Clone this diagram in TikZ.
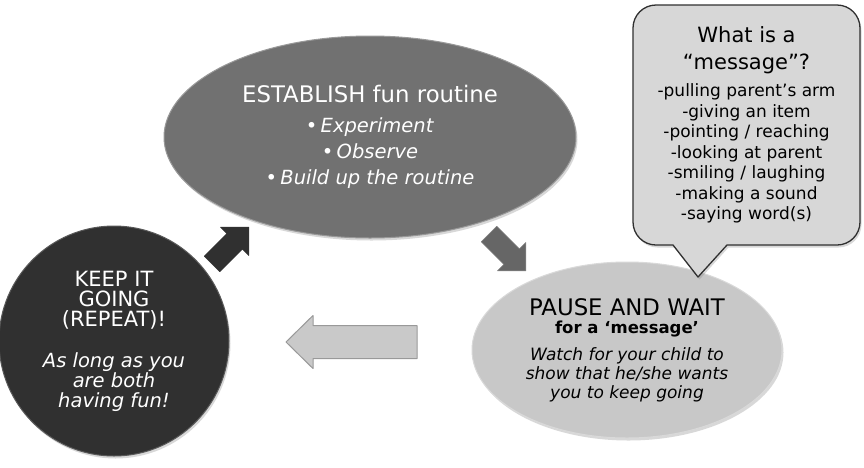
\documentclass[tikz,border=0pt]{standalone}
\usepackage{fontspec}
\setmainfont{DejaVu Sans}
\usetikzlibrary{shapes.geometric, shadows}

\definecolor{fungrey}{HTML}{717171}
\definecolor{keepdark}{HTML}{303030}
\definecolor{pauselight}{HTML}{C8C8C8}
\definecolor{calloutfill}{HTML}{D7D7D7}
\definecolor{arrowlight}{HTML}{C9C9C9}

\tikzset{
  fat arrow/.pic={
    \path[pic actions] (-26,-11) -- (6,-11) -- (6,-20) -- (26,0)
      -- (6,20) -- (6,11) -- (-26,11) -- cycle;
  }
}

\begin{document}
\begin{tikzpicture}[
    x=1pt, y=-1pt,
    line join=round,
    soft shadow/.style={drop shadow={opacity=0.3, shadow xshift=1.5pt, shadow yshift=-2.5pt}},
    stage/.style={inner sep=0pt, align=center, soft shadow},
  ]
  \fill[white] (0,0) rectangle (864,467);
  \useasboundingbox (0,0) rectangle (864,467);

  % the three stages
  \node[stage, ellipse, minimum width=412, minimum height=202,
        fill=fungrey, draw=gray!80, line width=1pt, text=white,
        font=\fontsize{19.5}{26}\selectfont] (establish) at (370,137)
    {{\fontsize{22.8}{27}\selectfont ESTABLISH fun routine}\\[4pt]
     \textbullet\,\textit{Experiment}\\
     \textbullet\,\textit{Observe}\\
     \textbullet\,\textit{Build up the routine}};

  \node[stage, ellipse, minimum width=310, minimum height=176,
        fill=pauselight, draw=gray!30, line width=1pt, text=black,
        font=\fontsize{17}{18.7}\selectfont] (pause) at (627,350)
    {{\fontsize{22.8}{27}\selectfont PAUSE AND WAIT}\\
     {\bfseries\fontsize{16.5}{18.7}\selectfont for a ‘message’}\\[8.3pt]
     \textit{Watch for your child to}\\
     \textit{show that he/she wants}\\
     \textit{you to keep going}};

  \node[stage, circle, minimum size=230,
        fill=keepdark, draw=gray!70!black, line width=1pt, text=white,
        font=\fontsize{19.5}{20}\selectfont] (keep) at (114,341)
    {{\fontsize{21}{20}\selectfont KEEP IT}\\
     {\fontsize{21}{20}\selectfont GOING}\\
     {\fontsize{21}{20}\selectfont (REPEAT)!}\\[21pt]
     \textit{As long as you}\\
     \textit{are both}\\
     \textit{having fun!}};

  % speech bubble
  \draw[fill=calloutfill, draw=keepdark, line width=1.3pt, soft shadow]
    (698,277) -- (727,245) [rounded corners=23] -- (860,245) -- (860,5)
    -- (633,5) -- (633,245) [sharp corners] -- (673,245) -- cycle;
  \node[inner sep=0pt, align=center, font=\fontsize{17}{20.5}\selectfont] (message) at (746.5,125)
    {{\fontsize{21}{27}\selectfont What is a}\\[6.5pt]
     {\fontsize{21}{27}\selectfont “message”?}\\[6.5pt]
     -pulling parent’s arm\\
     -giving an item\\
     -pointing / reaching\\
     -looking at parent\\
     -smiling / laughing\\
     -making a sound\\
     -saying word(s)};

  % block arrows between the stages
  \pic[fill=keepdark, draw=black!80, line width=0.6pt, rotate=45] at (230.4,245.6) {fat arrow};
  \pic[fill=fungrey!90!black, draw=gray, line width=0.6pt, rotate=-45] at (507.4,252.4) {fat arrow};
  \draw[fill=arrowlight, draw=gray!80, line width=1pt]
    (286,342) -- (313,315.5) -- (313,325.5) -- (417,325.5)
    -- (417,358.5) -- (313,358.5) -- (313,368.5) -- cycle;
\end{tikzpicture}
\end{document}
